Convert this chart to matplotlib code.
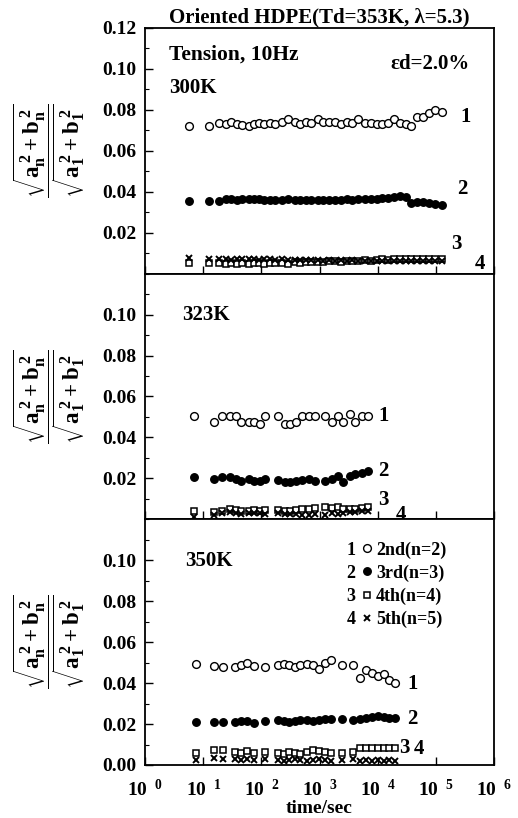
import numpy as np
import matplotlib
matplotlib.use("Agg")
import matplotlib.pyplot as plt
from matplotlib.ticker import MultipleLocator, FixedLocator, NullFormatter, FixedFormatter

plt.rcParams["font.family"] = ["Liberation Serif", "DejaVu Serif"]
plt.rcParams["font.weight"] = "bold"
plt.rcParams["mathtext.fontset"] = "custom"
plt.rcParams["mathtext.rm"] = "Liberation Serif:bold"
plt.rcParams["mathtext.it"] = "Liberation Serif:bold"
plt.rcParams["mathtext.bf"] = "Liberation Serif:bold"

# log10(time/sec) of each measurement, per temperature
logt_300 = [0.75, 1.10, 1.27, 1.39, 1.48, 1.58, 1.67, 1.78, 1.87, 1.95,
            2.05, 2.15, 2.24, 2.35, 2.46, 2.57, 2.66, 2.76, 2.86, 2.97,
            3.06, 3.16, 3.26, 3.37, 3.47, 3.56, 3.66, 3.78, 3.88, 3.98,
            4.08, 4.18, 4.28, 4.38, 4.48, 4.57, 4.68, 4.78, 4.88, 4.98, 5.10]
n2_300 = [0.0721, 0.0721, 0.0738, 0.0730, 0.0743, 0.0730, 0.0726, 0.0721, 0.0730, 0.0738,
          0.0730, 0.0738, 0.0730, 0.0741, 0.0756, 0.0743, 0.0730, 0.0743, 0.0738, 0.0754,
          0.0743, 0.0741, 0.0741, 0.0730, 0.0741, 0.0738, 0.0754, 0.0738, 0.0738, 0.0730,
          0.0730, 0.0738, 0.0754, 0.0738, 0.0730, 0.0721, 0.0767, 0.0764, 0.0784, 0.0800, 0.0790]
n3_300 = [0.0357, 0.0357, 0.0357, 0.0365, 0.0365, 0.0360, 0.0365, 0.0365, 0.0365, 0.0365,
          0.0362, 0.0360, 0.0360, 0.0362, 0.0365, 0.0360, 0.0360, 0.0360, 0.0360, 0.0360,
          0.0360, 0.0362, 0.0360, 0.0360, 0.0365, 0.0362, 0.0365, 0.0365, 0.0365, 0.0365,
          0.0368, 0.0370, 0.0372, 0.0378, 0.0375, 0.0345, 0.0352, 0.0348, 0.0345, 0.0340, 0.0335]
n4_300 = [0.0050, 0.0050, 0.0052, 0.0048, 0.0050, 0.0048, 0.0050, 0.0048, 0.0050, 0.0052,
          0.0048, 0.0050, 0.0050, 0.0052, 0.0048, 0.0055, 0.0052, 0.0055, 0.0055, 0.0058,
          0.0058, 0.0060, 0.0060, 0.0058, 0.0062, 0.0060, 0.0062, 0.0065, 0.0062, 0.0068,
          0.0070, 0.0068, 0.0070, 0.0072, 0.0070, 0.0072, 0.0072, 0.0070, 0.0072, 0.0070, 0.0072]
n5_300 = [0.0075, 0.0072, 0.0070, 0.0072, 0.0068, 0.0072, 0.0070, 0.0072, 0.0070, 0.0068,
          0.0072, 0.0070, 0.0068, 0.0070, 0.0068, 0.0065, 0.0068, 0.0065, 0.0066, 0.0065,
          0.0064, 0.0065, 0.0064, 0.0066, 0.0064, 0.0065, 0.0064, 0.0062, 0.0064, 0.0062,
          0.0064, 0.0062, 0.0064, 0.0062, 0.0064, 0.0062, 0.0064, 0.0062, 0.0064, 0.0062, 0.0064]

logt_323 = [0.84, 1.18, 1.33, 1.46, 1.56, 1.65, 1.78, 1.88, 1.98, 2.06,
            2.29, 2.40, 2.49, 2.59, 2.69, 2.81, 2.92, 3.09, 3.21, 3.31,
            3.41, 3.52, 3.61, 3.72, 3.84]
n2_323 = [0.0503, 0.0473, 0.0503, 0.0503, 0.0503, 0.0473, 0.0473, 0.0473, 0.0465, 0.0503,
          0.0503, 0.0465, 0.0465, 0.0473, 0.0503, 0.0503, 0.0503, 0.0503, 0.0473, 0.0503,
          0.0473, 0.0515, 0.0473, 0.0503, 0.0503]
n3_323 = [0.0205, 0.0197, 0.0208, 0.0205, 0.0197, 0.0187, 0.0197, 0.0187, 0.0187, 0.0197,
          0.0192, 0.0180, 0.0180, 0.0187, 0.0192, 0.0197, 0.0187, 0.0187, 0.0197, 0.0213,
          0.0180, 0.0213, 0.0220, 0.0228, 0.0236]
n4_323 = [0.0040, 0.0035, 0.0042, 0.0050, 0.0045, 0.0042, 0.0040, 0.0045, 0.0042, 0.0045,
          0.0045, 0.0040, 0.0042, 0.0045, 0.0050, 0.0052, 0.0055, 0.0058, 0.0055, 0.0058,
          0.0052, 0.0050, 0.0052, 0.0055, 0.0058]
n5_323 = [0.0012, 0.0020, 0.0030, 0.0035, 0.0030, 0.0028, 0.0032, 0.0030, 0.0030, 0.0028,
          0.0030, 0.0025, 0.0028, 0.0025, 0.0022, 0.0020, 0.0025, 0.0022, 0.0030, 0.0028,
          0.0032, 0.0035, 0.0038, 0.0040, 0.0042]

logt_350 = [0.87, 1.18, 1.34, 1.55, 1.65, 1.76, 1.87, 2.07, 2.29, 2.39,
            2.48, 2.58, 2.67, 2.78, 2.89, 2.99, 3.09, 3.20, 3.39, 3.58,
            3.70, 3.80, 3.90, 4.00, 4.11, 4.20, 4.30]
n2_350 = [0.0494, 0.0485, 0.0481, 0.0481, 0.0489, 0.0497, 0.0485, 0.0481, 0.0489, 0.0494,
          0.0489, 0.0481, 0.0489, 0.0494, 0.0489, 0.0469, 0.0497, 0.0515, 0.0489, 0.0489,
          0.0424, 0.0466, 0.0450, 0.0437, 0.0445, 0.0413, 0.0401]
n3_350 = [0.0210, 0.0210, 0.0210, 0.0210, 0.0215, 0.0215, 0.0205, 0.0215, 0.0220, 0.0215,
          0.0210, 0.0215, 0.0220, 0.0220, 0.0215, 0.0220, 0.0225, 0.0225, 0.0225, 0.0220,
          0.0225, 0.0230, 0.0235, 0.0240, 0.0235, 0.0230, 0.0230]
n4_350 = [0.0060, 0.0075, 0.0075, 0.0065, 0.0060, 0.0070, 0.0060, 0.0065, 0.0060, 0.0055,
          0.0065, 0.0060, 0.0055, 0.0065, 0.0075, 0.0070, 0.0065, 0.0060, 0.0060, 0.0065,
          0.0085, 0.0085, 0.0085, 0.0085, 0.0085, 0.0085, 0.0085]
n5_350 = [0.0025, 0.0035, 0.0030, 0.0030, 0.0025, 0.0030, 0.0025, 0.0030, 0.0025, 0.0020,
          0.0025, 0.0030, 0.0025, 0.0020, 0.0025, 0.0030, 0.0025, 0.0020, 0.0025, 0.0030,
          0.0020, 0.0025, 0.0020, 0.0025, 0.0020, 0.0025, 0.0020]

temps = ["300K", "323K", "350K"]
harmonic_names = ["2nd(n=2)", "3rd(n=3)", "4th(n=4)", "5th(n=5)"]
x_decades = [0, 1, 2, 3, 4, 5, 6]

panels = [
    (logt_300, [n2_300, n3_300, n4_300, n5_300]),
    (logt_323, [n2_323, n3_323, n4_323, n5_323]),
    (logt_350, [n2_350, n3_350, n4_350, n5_350]),
]

styles = [
    dict(marker="o", mfc="white", mec="black", ms=5.6, mew=1.0),
    dict(marker="o", mfc="black", mec="black", ms=5.4, mew=1.0),
    dict(marker="s", mfc="white", mec="black", ms=4.4, mew=1.1),
    dict(marker="x", mfc="black", mec="black", ms=4.4, mew=1.4),
]

# where the curve numbers 1-4 sit (log10 t, value)
num_pos = [
    [(5.5, 0.0765), (5.45, 0.0415), (5.35, 0.0145), (5.75, 0.0045)],
    [(4.1, 0.0505), (4.1, 0.0235), (4.1, 0.0095), (4.4, 0.002)],
    [(4.6, 0.0395), (4.6, 0.0225), (4.45, 0.0085), (4.7, 0.0080)],
]
yticks_per_panel = [
    [0.02, 0.04, 0.06, 0.08, 0.10, 0.12],
    [0.02, 0.04, 0.06, 0.08, 0.10],
    [0.00, 0.02, 0.04, 0.06, 0.08, 0.10],
]

fig = plt.figure(figsize=(5.18, 8.18), dpi=100)
gs = fig.add_gridspec(3, 1, left=0.280, right=0.954, top=0.9658, bottom=0.0648, hspace=0)
axes = [fig.add_subplot(gs[i]) for i in range(3)]

ylab = r"$\dfrac{\sqrt{a_n^{\,2}+b_n^{\,2}}}{\sqrt{a_1^{\,2}+b_1^{\,2}}}$"

leg = None
for i, ax in enumerate(axes):
    logt, series = panels[i]
    t = 10 ** np.array(logt)
    lines = []
    for vals, st in zip(series, styles):
        ln, = ax.plot(t, vals, linestyle="none", **st)
        lines.append(ln)

    ax.set_xscale("log")
    ax.set_xlim(1, 1e6)
    ax.set_ylim(0, 0.12)
    ax.yaxis.set_major_locator(FixedLocator(yticks_per_panel[i]))
    ax.yaxis.set_major_formatter(FixedFormatter(["%.2f" % v for v in yticks_per_panel[i]]))
    ax.yaxis.set_minor_locator(MultipleLocator(0.01))
    ax.tick_params(which="both", direction="in", top=False, right=False, labelsize=14)
    ax.tick_params(axis="y", which="major", pad=6)
    ax.tick_params(which="major", length=6, width=1.0)
    ax.tick_params(which="minor", length=3, width=0.8)
    ax.xaxis.set_major_locator(FixedLocator([10 ** d for d in x_decades]))
    for sp in ax.spines.values():
        sp.set_linewidth(1.3)

    if i < 2:
        ax.xaxis.set_major_formatter(NullFormatter())
    else:
        ax.xaxis.set_major_formatter(
            FixedFormatter([r"$10^{\ \ %d}$" % d for d in x_decades]))
        ax.tick_params(axis="x", which="major", pad=10, labelsize=14)
        ax.set_xlabel("time/sec", fontsize=14, fontweight="bold", labelpad=0)
    ax.xaxis.set_minor_formatter(NullFormatter())

    for k, (lx, ly) in enumerate(num_pos[i]):
        ax.text(10 ** lx, ly, str(k + 1), fontsize=15, fontweight="bold",
                ha="center", va="center")

    ax.text(-0.275, 0.5, ylab, transform=ax.transAxes, rotation=90,
            fontsize=16.5, ha="center", va="center")

    if i == 2:
        leg = ax.legend(lines, harmonic_names, loc="upper left",
                        bbox_to_anchor=(0.615, 0.91), frameon=False, fontsize=13,
                        handlelength=0.8, handletextpad=0.1, labelspacing=0.32,
                        borderpad=0, borderaxespad=0)

axes[0].text(0.07, 0.89, "Tension, 10Hz", transform=axes[0].transAxes,
             fontsize=15.5, fontweight="bold", ha="left", va="center")
axes[0].text(0.93, 0.853, "\u03b5d=2.0%", transform=axes[0].transAxes,
             fontsize=15, fontweight="bold", ha="right", va="center")
for ax, label, pos in zip(axes, temps, [(0.07, 0.755), (0.105, 0.83), (0.115, 0.83)]):
    ax.text(pos[0], pos[1], label, transform=ax.transAxes, fontsize=15,
            fontweight="bold", ha="left", va="center")

axes[0].set_title("Oriented HDPE(Td=353K, \u03bb=5.3)", fontsize=15,
                  fontweight="bold", pad=2)

# numbers 1-4 in front of the legend markers
fig.canvas.draw()
inv = axes[2].transAxes.inverted()
for k, txt in enumerate(leg.get_texts()):
    bb = txt.get_window_extent()
    ax_x, ax_y = inv.transform((bb.x0 - 25, (bb.y0 + bb.y1) / 2))
    axes[2].text(ax_x, ax_y, str(k + 1), transform=axes[2].transAxes,
                 fontsize=13, fontweight="bold", ha="center", va="center")

fig.savefig("out.png", dpi=100)
